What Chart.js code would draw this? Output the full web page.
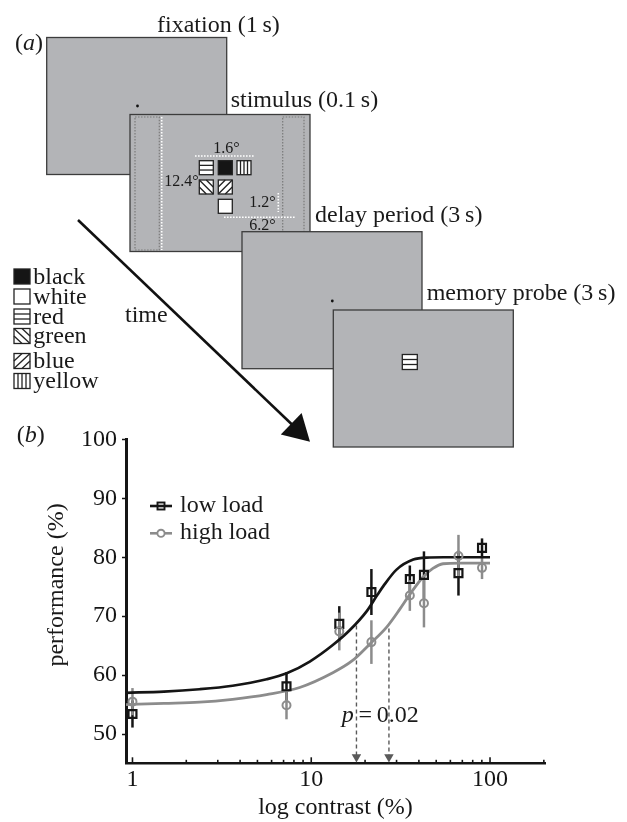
<!DOCTYPE html>
<html>
<head>
<meta charset="utf-8">
<title>Contrast and memory load</title>
<script src="https://cdn.jsdelivr.net/npm/chart.js@4.4.0/dist/chart.umd.min.js"></script>
<style>
  body { margin: 0; background: #fff; }
  #page { position: relative; width: 627px; height: 822px; overflow: hidden; }
  #perfChart { position: absolute; left: 0; top: 420px; }
  #overlay { position: absolute; left: 0; top: 0; pointer-events: none; }
</style>
</head>
<body>
<div id="page">
  <canvas id="perfChart" width="627" height="402"></canvas>
  <svg id="overlay" width="627" height="822"></svg>
</div>
<script>
// Data
const contrasts = [1, 7.27, 14.35, 21.7, 35.6, 42.7, 66.6, 90.2];
const lowLoad = [53.4, 58.1, 68.7, 74.1, 76.3, 77.0, 77.3, 81.6];
const lowLoadErr = [2.3, 2.4, 3.0, 3.9, 2.3, 4.0, 3.8, 1.6];
const highLoad = [55.5, 54.9, 67.4, 65.6, 73.5, 72.2, 80.2, 78.2];
const highLoadErr = [2.3, 2.4, 3.2, 3.7, 2.6, 4.1, 3.6, 1.9];

// Fitted curves
const lowFitX = [0.92, 1.5, 2.37, 3.63, 5.63, 7.29, 9.81, 13.2, 16.4, 20.5, 23.3, 25.3, 30.0, 37.2, 44.2, 55, 100];
const lowFitY = [57.0, 57.2, 57.6, 58.2, 59.3, 60.3, 62.3, 65.1, 67.6, 70.9, 73.5, 75.1, 77.9, 79.6, 79.95, 80.0, 80.0];
const highFitX = [0.92, 1.5, 2.37, 3.63, 5.63, 8.62, 13.2, 16.9, 21.3, 26.5, 31.3, 35.6, 42.1, 47.9, 54.6, 67.9, 100];
const highFitY = [55.0, 55.2, 55.4, 55.9, 56.7, 57.9, 60.4, 62.4, 65.3, 68.2, 71.2, 73.7, 76.6, 78.1, 78.9, 79.0, 79.0];

// Thresholds (dashed arrows)
const thresholdX = [17.9, 27.2];
const thresholdTop = [68.4, 67.9];
const arrowBase = 46.1;

// Axes
const xTickValues = [1, 2, 3, 4, 5, 6, 7, 8, 9, 10, 20, 30, 40, 50, 60, 70, 80, 90, 100, 200];
const xLabels = [1, 10, 100];
const yTicks = [50, 60, 70, 80, 90, 100];

const BLACK = '#151515';
const GRAY = '#8c8c8c';
const SERIF = "'Liberation Serif', 'Times New Roman', serif";
const font = { family: SERIF, size: 24 };

const pts = (xs, ys) => xs.map((x, i) => ({ x, y: ys[i] }));

// Error bars drawn under the datasets
const errorBars = {
  id: 'errorBars',
  beforeDatasetsDraw(chart) {
    const { ctx, scales: { x, y } } = chart;
    const series = [
      { values: lowLoad, errors: lowLoadErr, color: BLACK },
      { values: highLoad, errors: highLoadErr, color: GRAY }
    ];
    ctx.save();
    ctx.lineWidth = 2.5;
    series.forEach(s => {
      ctx.strokeStyle = s.color;
      contrasts.forEach((c, i) => {
        const px = x.getPixelForValue(c);
        ctx.beginPath();
        ctx.moveTo(px, y.getPixelForValue(s.values[i] - s.errors[i]));
        ctx.lineTo(px, y.getPixelForValue(s.values[i] + s.errors[i]));
        ctx.stroke();
      });
    });
    ctx.restore();
  }
};

// Small inward tick marks on the log axis
const logTicks = {
  id: 'logTicks',
  afterDatasetsDraw(chart) {
    const { ctx, scales: { x } } = chart;
    const base = chart.chartArea.bottom - 1.2;
    ctx.save();
    ctx.strokeStyle = BLACK;
    ctx.lineWidth = 1.6;
    xTickValues.forEach(v => {
      const px = x.getPixelForValue(v);
      const len = xLabels.includes(v) ? 5 : 2.5;
      ctx.beginPath();
      ctx.moveTo(px, base);
      ctx.lineTo(px, base - len);
      ctx.stroke();
    });
    ctx.restore();
  }
};

const dashedSet = i => ({
  data: [{ x: thresholdX[i], y: thresholdTop[i] }, { x: thresholdX[i], y: arrowBase }],
  borderColor: '#5a5a5a',
  borderWidth: 1.4,
  borderDash: [4, 3],
  pointRadius: [0, 5.5],
  pointStyle: 'triangle',
  pointRotation: 180,
  pointBackgroundColor: '#5a5a5a',
  pointBorderWidth: 0,
  order: 5
});

const ctx = document.getElementById('perfChart').getContext('2d');
const chart = new Chart(ctx, {
  type: 'line',
  data: {
    datasets: [
      {
        label: 'high load',
        data: pts(contrasts, highLoad),
        showLine: false,
        pointStyle: 'circle',
        pointRadius: 4,
        pointBorderWidth: 2,
        pointBorderColor: GRAY,
        pointBackgroundColor: 'rgba(0,0,0,0)',
        order: 0
      },
      {
        label: 'low load',
        data: pts(contrasts, lowLoad),
        showLine: false,
        pointStyle: 'rect',
        pointRadius: 5.6,
        pointBorderWidth: 2.2,
        pointBorderColor: BLACK,
        pointBackgroundColor: 'rgba(0,0,0,0)',
        order: 1
      },
      {
        label: 'low load fit',
        data: pts(lowFitX, lowFitY),
        borderColor: BLACK,
        borderWidth: 2.7,
        pointRadius: 0,
        cubicInterpolationMode: 'monotone',
        order: 2
      },
      {
        label: 'high load fit',
        data: pts(highFitX, highFitY),
        borderColor: GRAY,
        borderWidth: 2.8,
        pointRadius: 0,
        cubicInterpolationMode: 'monotone',
        order: 3
      },
      dashedSet(0),
      dashedSet(1)
    ]
  },
  options: {
    responsive: false,
    animation: false,
    layout: { padding: { top: 16, right: 82, left: 0, bottom: 0 } },
    plugins: {
      legend: { display: false },
      tooltip: { enabled: false }
    },
    scales: {
      x: {
        type: 'logarithmic',
        position: 'bottom',
        min: 0.92,
        max: 203,
        afterBuildTicks: s => { s.ticks = xTickValues.map(v => ({ value: v })); },
        afterFit: s => { s.height = 58.5; },
        grid: { drawOnChartArea: false, drawTicks: false },
        border: { color: BLACK, width: 2.5 },
        ticks: {
          font,
          color: BLACK,
          padding: 2,
          autoSkip: false,
          maxRotation: 0,
          callback: v => xLabels.includes(v) ? String(v) : ''
        },
        title: {
          display: true,
          text: 'log contrast (%)',
          font,
          color: BLACK,
          padding: { top: 0, bottom: 0 }
        }
      },
      y: {
        min: 45,
        max: 100,
        afterBuildTicks: s => { s.ticks = yTicks.map(v => ({ value: v })); },
        afterFit: s => { s.width = 126; },
        grid: { drawOnChartArea: false, drawTicks: true, tickLength: 4, tickWidth: 1.5, tickColor: BLACK },
        border: { color: BLACK, width: 3 },
        ticks: { font, color: BLACK, padding: 5 }
      }
    }
  },
  plugins: [errorBars, logTicks]
});

// Panel (a): task diagram, plus panel labels and legend
function swatch(kind, x, y, w, h) {
  const L = (x1, y1, x2, y2) => `<line x1="${x1}" y1="${y1}" x2="${x2}" y2="${y2}"/>`;
  let lines = '';
  if (kind === 'red') for (let k = 1; k < 3; k++) lines += L(x, y + h * k / 3, x + w, y + h * k / 3);
  if (kind === 'yellow') for (let k = 1; k < 4; k++) lines += L(x + w * k / 4, y, x + w * k / 4, y + h);
  if (kind === 'green') lines += L(x, y, x + w, y + h) + L(x, y + h / 2, x + w / 2, y + h) + L(x + w / 2, y, x + w, y + h / 2);
  if (kind === 'blue') lines += L(x, y + h, x + w, y) + L(x, y + h / 2, x + w / 2, y) + L(x + w / 2, y + h, x + w, y + h / 2);
  return `<rect x="${x}" y="${y}" width="${w}" height="${h}" fill="${kind === 'black' ? '#151515' : '#fff'}" stroke="#222" stroke-width="1.3"/>` +
    `<g stroke="#222" stroke-width="1.3">${lines}</g>`;
}

const box = (x, y) => `<rect x="${x}" y="${y}" width="180" height="137" fill="#b3b4b7" stroke="#3c3c3c" stroke-width="1.3"/>`;
const whiteDots = 'stroke="#fff" stroke-width="1.6" stroke-dasharray="1.6 1.4"';
const grayDots = 'fill="none" stroke="#7a7a7a" stroke-width="1.2" stroke-dasharray="1.5 1.5"';

const colourNames = ['black', 'white', 'red', 'green', 'blue', 'yellow'];
const colourBaselines = [283.5, 303.5, 323.5, 343, 368, 388];

let svg = `<g font-family="${SERIF}" fill="#1a1a1a" font-size="24">`;
// fixation
svg += box(46.7, 37.5) + '<circle cx="137.5" cy="106" r="1.4" fill="#111"/>';
// stimulus
svg += box(130, 114.5);
svg += `<rect x="135" y="117" width="24.3" height="133" ${grayDots}/>`;
svg += `<rect x="282.7" y="117" width="21.3" height="133" ${grayDots}/>`;
svg += `<line x1="161.7" y1="117" x2="161.7" y2="250" ${whiteDots}/>`;
svg += `<line x1="195" y1="156" x2="254" y2="156" ${whiteDots}/>`;
svg += `<line x1="278.3" y1="193" x2="278.3" y2="212" ${whiteDots}/>`;
svg += `<line x1="224" y1="217.3" x2="296" y2="217.3" ${whiteDots}/>`;
svg += swatch('red', 199.3, 160.7, 14, 14) + swatch('black', 218.3, 160.7, 14, 14) + swatch('yellow', 237, 160.7, 14, 14);
svg += swatch('green', 199.3, 180, 14, 14) + swatch('blue', 218.3, 180, 14, 14) + swatch('white', 218.3, 199.3, 14, 14);
svg += '<g font-size="16">' +
  '<text x="213.3" y="152.7">1.6°</text>' +
  '<text x="164.3" y="185.7">12.4°</text>' +
  '<text x="249.3" y="207.3">1.2°</text>' +
  '<text x="249.3" y="230">6.2°</text></g>';
// delay
svg += box(242, 231.7) + '<circle cx="332.3" cy="301" r="1.4" fill="#111"/>';
// probe
svg += box(333.3, 310) + swatch('red', 402.3, 354.5, 15, 15);
// step titles
svg += '<text x="157" y="31.7">fixation (1\u2009s)</text>';
svg += '<text x="230.7" y="107.3">stimulus (0.1\u2009s)</text>';
svg += '<text x="315" y="221.7">delay period (3\u2009s)</text>';
svg += '<text x="426.7" y="300">memory probe (3\u2009s)</text>';
svg += '<text x="15" y="50">(<tspan font-style="italic">a</tspan>)</text>';
svg += '<text x="16.7" y="441.7">(<tspan font-style="italic">b</tspan>)</text>';
// colour key
colourNames.forEach((name, i) => {
  const b = colourBaselines[i];
  svg += swatch(name, 14, b - 14.5, 16, 15);
  svg += `<text x="33.3" y="${b}">${name}</text>`;
});
// time arrow
svg += '<text x="125" y="321.7">time</text>';
svg += '<line x1="78" y1="220" x2="292" y2="424.5" stroke="#111" stroke-width="2.6"/>';
svg += '<polygon points="310,441.7 280.8,434.5 301.6,412.9" fill="#111"/>';
// chart legend
svg += `<line x1="150" y1="506" x2="172" y2="506" stroke="${BLACK}" stroke-width="2.6"/>`;
svg += `<rect x="157.5" y="502.5" width="7" height="7" fill="none" stroke="${BLACK}" stroke-width="1.9"/>`;
svg += '<text x="180" y="511.7">low load</text>';
svg += `<line x1="150" y1="533.3" x2="172" y2="533.3" stroke="${GRAY}" stroke-width="2.6"/>`;
svg += `<circle cx="161" cy="533.3" r="3.6" fill="#fff" stroke="${GRAY}" stroke-width="1.9"/>`;
svg += '<text x="180" y="539.3">high load</text>';
// y axis title and p value
svg += '<text transform="translate(63,585) rotate(-90)" text-anchor="middle">performance (%)</text>';
svg += '<text x="341.7" y="721.7"><tspan font-style="italic">p</tspan>\u2009=\u20090.02</text>';
svg += '</g>';

document.getElementById('overlay').innerHTML = svg;
</script>
</body>
</html>
